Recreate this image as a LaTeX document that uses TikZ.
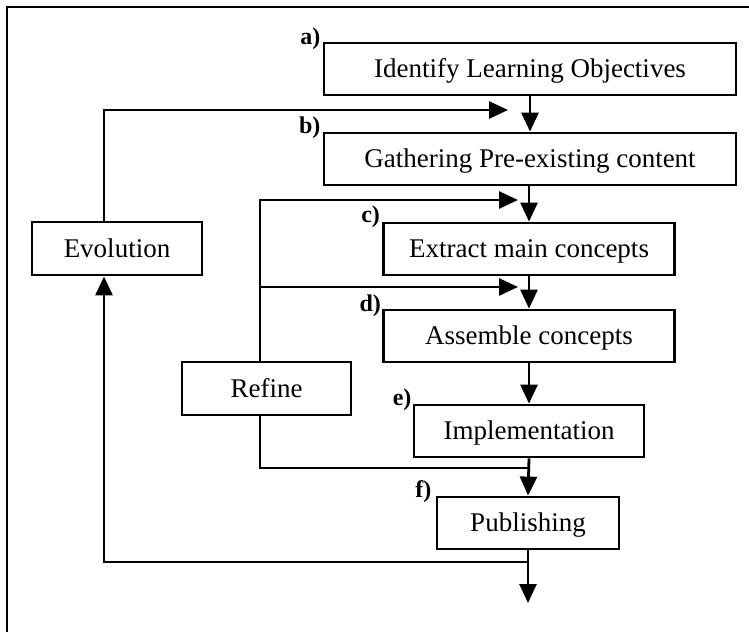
\documentclass[tikz,border=0pt]{standalone}
\usepackage{fontspec}
\setmainfont{Liberation Serif}
\usetikzlibrary{arrows.meta}
\begin{document}
\begin{tikzpicture}[x=1pt,y=-1pt,
  box/.style={draw, line width=2.8pt, minimum height=52pt, inner sep=0pt,
    font=\fontsize{27}{30}\selectfont, text height=17.5pt, text depth=0pt},
  lab/.style={font=\fontsize{24}{28}\selectfont\bfseries, anchor=base east, inner sep=0pt},
  ln/.style={line width=2.8pt, line join=miter},
  arr/.style={ln, -{Triangle[length=19pt,width=17pt]}},
  frame/.style={line width=1.6pt}]
\useasboundingbox (0,0) rectangle (749,632);
% frame
\coordinate (fr1) at (749,7);
\coordinate (fr2) at (7,7);
\coordinate (fr3) at (7,632);
\draw[frame] (fr1) -- (fr2) -- (fr3);
% main boxes
\node[box, minimum width=412pt] (a) at (530,69) {Identify Learning Objectives};
\node[box, minimum width=412pt] (b) at (530,159) {Gathering Pre-existing content};
\node[box, minimum width=291pt] (c) at (529,249) {Extract main concepts};
\node[box, minimum width=291pt] (d) at (529,336) {Assemble concepts};
\node[box, minimum width=230pt] (e) at (529,431) {Implementation};
\node[box, minimum width=182pt] (f) at (528,523) {Publishing};
\node[box, minimum width=170pt, minimum height=53pt] (evo) at (117,248.5) {Evolution};
\node[box, minimum width=169pt, minimum height=53pt] (ref) at (266.5,388.5) {Refine};
% labels
\node[lab] (la) at ([xshift=-2pt,yshift=-3pt]a.north west) {a)};
\node[lab] (lb) at ([xshift=-2pt,yshift=-2pt]b.north west) {b)};
\node[lab] (lc) at ([xshift=-2pt,yshift=-1pt]c.north west) {c)};
\node[lab] (ld) at ([xshift=-1pt,yshift=-3pt]d.north west) {d)};
\node[lab] (le) at ([xshift=-1pt,yshift=-2pt]e.north west) {e)};
\node[lab] (lf) at ([xshift=-4pt,yshift=-2pt]f.north west) {f)};
% spine
\draw[arr] (a.south) -- (b.north);
\draw[arr] (b.south -| c.north) -- (c.north);
\draw[arr] (c.south) -- (d.north);
\draw[arr] (d.south) -- (e.north);
\draw[arr] (e.south) -- (f.north);
\coordinate (jb) at (528,562);
\coordinate (out) at (528,603);
\draw[arr] (f.south) -- (out);
% evolution loop
\coordinate (el) at (104,562);
\coordinate (et) at (104,110);
\coordinate (eh) at (508,110);
\draw[arr] (jb) -- (el) -- (el |- evo.south);
\draw[arr] (et |- evo.north) -- (et) -- (eh);
% refine loop
\coordinate (rt) at (260,200);
\coordinate (rh1) at (518,200);
\coordinate (rm) at (260,287);
\coordinate (rh2) at (518,287);
\coordinate (rb) at (260,468);
\coordinate (rj) at (529,468);
\draw[arr] (rt |- ref.north) -- (rt) -- (rh1);
\draw[arr] (rm) -- (rh2);
\draw[ln] (rb |- ref.south) -- (rb) -- (rj);
\end{tikzpicture}
\end{document}
